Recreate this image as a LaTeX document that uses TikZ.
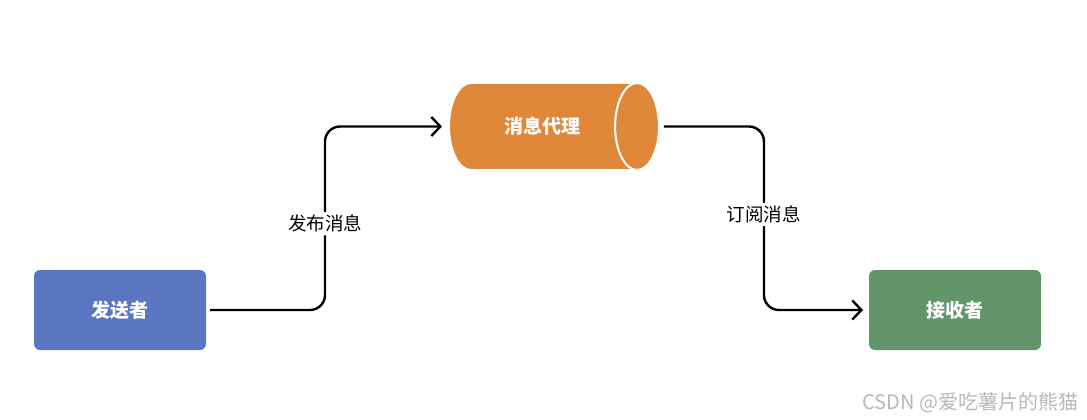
\documentclass[tikz,border=0pt]{standalone}
\usepackage{fontspec}
\setmainfont{Noto Sans CJK SC}
\usetikzlibrary{arrows.meta, shapes.geometric}

\definecolor{senderblue}{HTML}{5B76C1}
\definecolor{brokerorange}{HTML}{E0883A}
\definecolor{receivergreen}{HTML}{62956A}

\tikzset{
    box/.style={rounded corners=6pt, minimum width=172pt, minimum height=80pt,
        text=white, font=\fontsize{19}{22}\selectfont\bfseries, inner sep=0pt, outer sep=0pt},
    flow/.style={line width=2.4pt, rounded corners=15pt,
        -{Straight Barb[length=9pt,width=19pt,line width=2.4pt]}},
    lbl/.style={fill=white, inner sep=3pt, font=\fontsize{18.5}{21}\selectfont}
}

\begin{document}
\begin{tikzpicture}[x=1pt,y=-1pt]
\useasboundingbox (0,0) rectangle (1087,420);

% Sender and receiver
\node[box, fill=senderblue] (sender) at (120,310) {发送者};
\node[box, fill=receivergreen] (receiver) at (955,310) {接收者};

% Message broker
\node[cylinder, shape border rotate=0, aspect=2.4, draw=white, line width=2pt,
      fill=brokerorange, minimum width=87pt, minimum height=210pt,
      text=white, font=\fontsize{19}{22}\selectfont\bfseries, inner sep=0pt, outer sep=0pt]
      (broker) at (542.5,126.5) {消息代理};

% Publish
\draw[flow, shorten <=4pt, shorten >=7pt] (sender.east) -- ++(119,0)
    |- node[pos=0.235, lbl] (publish) {发布消息} (broker.west);

% Subscribe
\draw[flow, shorten <=5pt, shorten >=6pt] (broker.east) -- ++(105,0)
    |- node[pos=0.24, lbl] (subscribe) {订阅消息} (receiver.west);

% Watermark
\node[anchor=east, text=black!28, font=\fontsize{20}{22}\selectfont] (mark) at (1082,403) {CSDN @爱吃薯片的熊猫};
\end{tikzpicture}
\end{document}
